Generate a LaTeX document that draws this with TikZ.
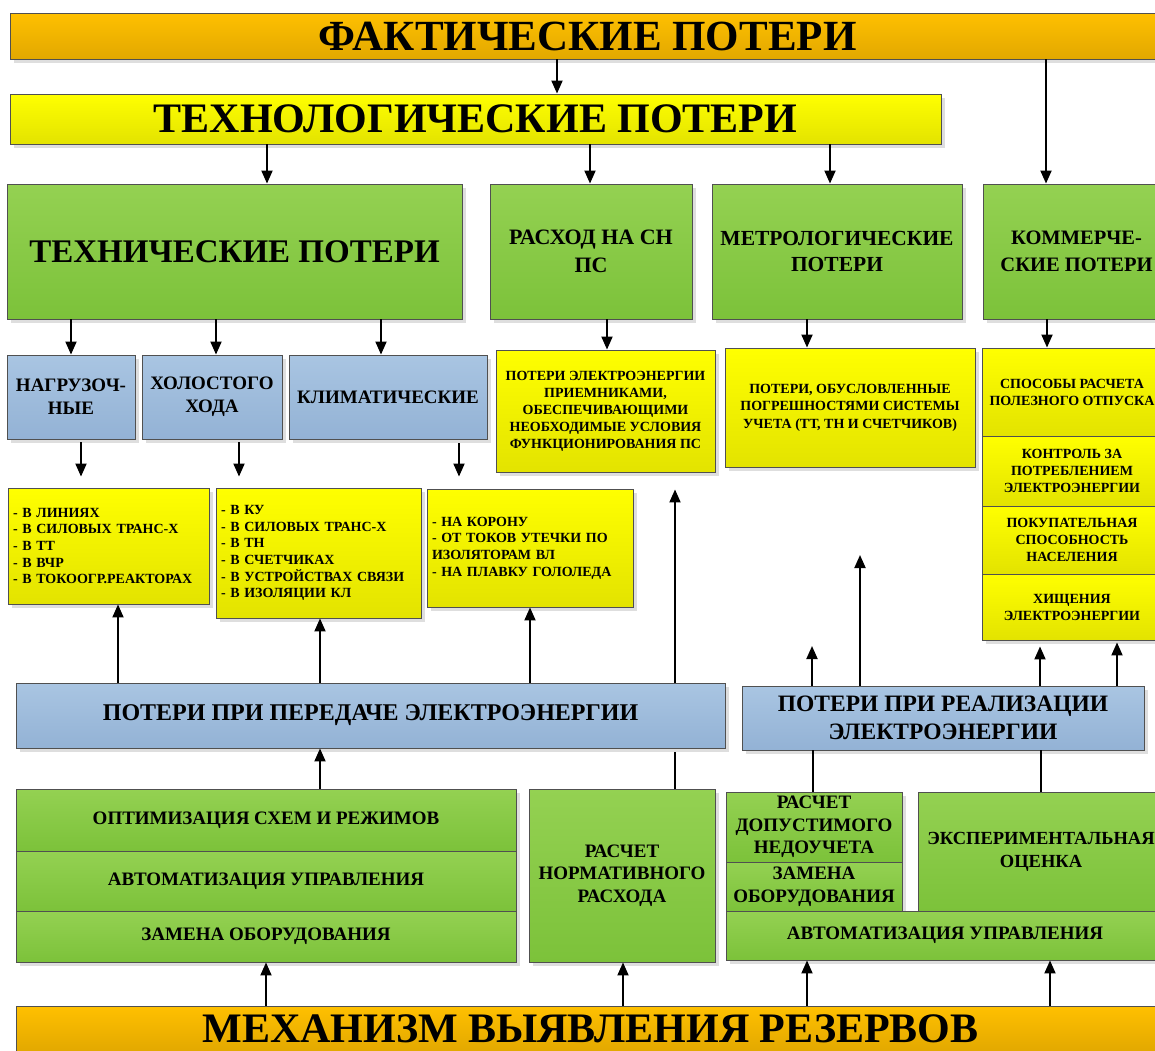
\documentclass[tikz,border=0pt]{standalone}
\usepackage{fontspec}
\setmainfont{Liberation Serif}
\usetikzlibrary{shadows,arrows.meta}
\definecolor{orT}{HTML}{FFC000}
\definecolor{orB}{HTML}{E2A800}
\definecolor{ylT}{HTML}{FFFF00}
\definecolor{ylB}{HTML}{E3E300}
\definecolor{grT}{HTML}{94D152}
\definecolor{grB}{HTML}{7CC23A}
\definecolor{blT}{HTML}{A9C5E2}
\definecolor{blB}{HTML}{93B2D5}
\definecolor{bord}{HTML}{505050}
\newcommand\fz[2]{\fontsize{#1}{#2}\selectfont\bfseries}
% name, style, x1, y1, x2, y2, text
\newcommand\rbox[7]{\node[#2, minimum width={#5pt-#3pt}, minimum height={#6pt-#4pt}] (#1) at ({(#3+#5)/2},{(#4+#6)/2}) {#7};}
\tikzset{
  bx/.style={draw=bord, line width=0.9pt, inner sep=0pt, align=center,
    drop shadow={shadow xshift=3.5pt, shadow yshift=-3.5pt, fill=black!13, opacity=1}},
  orbox/.style={bx, top color=orT, bottom color=orB},
  ylbox/.style={bx, top color=ylT, bottom color=ylB},
  grbox/.style={bx, top color=grT, bottom color=grB},
  blbox/.style={bx, top color=blT, bottom color=blB},
  lst/.style={align=left, inner xsep=5pt, text width=#1, font=\fz{14}{16.7}},
  arr/.style={line width=1.9pt, -{Triangle[length=13pt,width=11pt]}},
  ln/.style={line width=1.9pt},
}
\begin{document}
\begin{tikzpicture}[x=1pt,y=-1pt]
\useasboundingbox (0,0) rectangle (1155,1050);
\clip (0,0) rectangle (1155,1050);
\fill[white] (0,0) rectangle (1155,1050);

% connector drawn behind the transmission box
\rbox{norm}{grbox, font=\fz{19}{22.5}}{529}{789}{715}{962}{РАСЧЕТ\\НОРМАТИВНОГО\\РАСХОДА}
\rbox{ps}{ylbox, font=\fz{14}{17}}{496}{350}{715}{472}{ПОТЕРИ ЭЛЕКТРОЭНЕРГИИ\\ПРИЕМНИКАМИ,\\ОБЕСПЕЧИВАЮЩИМИ\\НЕОБХОДИМЫЕ УСЛОВИЯ\\ФУНКЦИОНИРОВАНИЯ ПС}
\draw[arr, shorten >=17pt] (675,0 |- norm.north) -- (675,0 |- ps.south);

% top bars
\rbox{fakt}{orbox, font=\fz{43}{48}}{10}{13}{1165}{59}{ФАКТИЧЕСКИЕ ПОТЕРИ}
\rbox{tech}{ylbox, font=\fz{42}{46}}{10}{94}{941}{144}{ТЕХНОЛОГИЧЕСКИЕ ПОТЕРИ}

% green row
\rbox{techn}{grbox, font=\fz{33}{38}}{7}{184}{462}{319}{ТЕХНИЧЕСКИЕ ПОТЕРИ}
\rbox{rash}{grbox, font=\fz{22}{28}}{490}{184}{692}{319}{РАСХОД НА СН\\ПС}
\rbox{metro}{grbox, font=\fz{21.5}{26.5}}{712}{184}{962}{319}{МЕТРОЛОГИЧЕСКИЕ\\ПОТЕРИ}
\rbox{komm}{grbox, font=\fz{20.5}{26.5}}{983}{184}{1170}{319}{КОММЕРЧЕ-\\СКИЕ ПОТЕРИ}

% blue row
\rbox{nagr}{blbox, font=\fz{19}{23}}{7}{355}{135}{439}{НАГРУЗОЧ-\\НЫЕ}
\rbox{holost}{blbox, font=\fz{19}{23}}{142}{355}{282}{439}{ХОЛОСТОГО\\ХОДА}
\rbox{klim}{blbox, font=\fz{19}{23}}{289}{355}{487}{439}{КЛИМАТИЧЕСКИЕ}

% yellow description boxes
\rbox{pogr}{ylbox, font=\fz{14}{17.5}}{725}{348}{975}{467}{ПОТЕРИ, ОБУСЛОВЛЕННЫЕ\\ПОГРЕШНОСТЯМИ СИСТЕМЫ\\УЧЕТА (ТТ, ТН И СЧЕТЧИКОВ)}
\rbox{sposob}{ylbox, font=\fz{14}{17}}{982}{348}{1162}{436}{СПОСОБЫ РАСЧЕТА\\ПОЛЕЗНОГО ОТПУСКА}
\rbox{kontr}{ylbox, font=\fz{14}{17}}{982}{436}{1162}{506}{КОНТРОЛЬ ЗА\\ПОТРЕБЛЕНИЕМ\\ЭЛЕКТРОЭНЕРГИИ}
\rbox{pokup}{ylbox, font=\fz{14}{17}}{982}{506}{1162}{574}{ПОКУПАТЕЛЬНАЯ\\СПОСОБНОСТЬ\\НАСЕЛЕНИЯ}
\rbox{hisch}{ylbox, font=\fz{14}{17}}{982}{574}{1162}{640}{ХИЩЕНИЯ\\ЭЛЕКТРОЭНЕРГИИ}

% lists
\rbox{list1}{ylbox, lst=191pt}{8}{488}{209}{604}{- В ЛИНИЯХ\\- В СИЛОВЫХ ТРАНС-Х\\- В ТТ\\- В ВЧР\\- В ТОКООГР.РЕАКТОРАХ}
\rbox{list2}{ylbox, lst=195pt}{216}{488}{421}{618}{- В КУ\\- В СИЛОВЫХ ТРАНС-Х\\- В ТН\\- В СЧЕТЧИКАХ\\- В УСТРОЙСТВАХ СВЯЗИ\\- В ИЗОЛЯЦИИ КЛ}
\rbox{list3}{ylbox, lst=196pt}{427}{489}{633}{607}{- НА КОРОНУ\\- ОТ ТОКОВ УТЕЧКИ ПО\\ИЗОЛЯТОРАМ ВЛ\\- НА ПЛАВКУ ГОЛОЛЕДА}

% middle blue bars
\rbox{per}{blbox, font=\fz{24}{28}}{16}{683}{725}{748}{ПОТЕРИ ПРИ ПЕРЕДАЧЕ ЭЛЕКТРОЭНЕРГИИ}
\rbox{real}{blbox, font=\fz{23.5}{28}}{742}{686}{1144}{750}{ПОТЕРИ ПРИ РЕАЛИЗАЦИИ\\ЭЛЕКТРОЭНЕРГИИ}

% bottom green boxes
\rbox{optim}{grbox, font=\fz{19}{22}}{16}{789}{516}{851}{ОПТИМИЗАЦИЯ СХЕМ И РЕЖИМОВ}
\rbox{avt1}{grbox, font=\fz{19}{22}}{16}{851}{516}{911}{АВТОМАТИЗАЦИЯ УПРАВЛЕНИЯ}
\rbox{zam1}{grbox, font=\fz{19}{22}}{16}{911}{516}{962}{ЗАМЕНА ОБОРУДОВАНИЯ}
\rbox{dop}{grbox, font=\fz{19}{22.7}}{726}{792}{902}{862}{РАСЧЕТ\\ДОПУСТИМОГО\\НЕДОУЧЕТА}
\rbox{zam2}{grbox, font=\fz{19}{23}}{726}{862}{902}{911}{ЗАМЕНА\\ОБОРУДОВАНИЯ}
\rbox{exper}{grbox, font=\fz{18.5}{23}}{918}{792}{1164}{911}{ЭКСПЕРИМЕНТАЛЬНАЯ\\ОЦЕНКА}
\rbox{avt2}{grbox, font=\fz{19}{22}}{726}{911}{1164}{960}{АВТОМАТИЗАЦИЯ УПРАВЛЕНИЯ}

% bottom bar
\rbox{mech}{orbox, font=\fz{42}{46}}{16}{1006}{1165}{1052}{МЕХАНИЗМ ВЫЯВЛЕНИЯ РЕЗЕРВОВ}

% free ends
\coordinate (f1) at (812,646);
\coordinate (f2) at (860,555);

% connectors, top part
\draw[arr] (557,0 |- fakt.south) -- (557,0 |- tech.north);
\draw[arr] (1046,0 |- fakt.south) -- (1046,0 |- komm.north);
\draw[arr] (267,0 |- tech.south) -- (267,0 |- techn.north);
\draw[arr] (590,0 |- tech.south) -- (590,0 |- rash.north);
\draw[arr] (830,0 |- tech.south) -- (830,0 |- metro.north);
\draw[arr] (71,0 |- techn.south) -- (71,0 |- nagr.north);
\draw[arr] (216,0 |- techn.south) -- (216,0 |- holost.north);
\draw[arr] (381,0 |- techn.south) -- (381,0 |- klim.north);
\draw[arr] (607,0 |- rash.south) -- (607,0 |- ps.north);
\draw[arr] (807,0 |- metro.south) -- (807,0 |- pogr.north);
\draw[arr] (1047,0 |- komm.south) -- (1047,0 |- sposob.north);
\draw[arr, shorten <=3pt, shorten >=11pt] (81,0 |- nagr.south) -- (81,0 |- list1.north);
\draw[arr, shorten <=3pt, shorten >=11pt] (239,0 |- holost.south) -- (239,0 |- list2.north);
\draw[arr, shorten <=4pt, shorten >=12pt] (459,0 |- klim.south) -- (459,0 |- list3.north);

% connectors, middle part
\draw[arr] (118,0 |- per.north) -- (118,0 |- list1.south);
\draw[arr] (320,0 |- per.north) -- (320,0 |- list2.south);
\draw[arr] (530,0 |- per.north) -- (530,0 |- list3.south);
\draw[arr] (320,0 |- optim.north) -- (320,0 |- per.south);
\draw[arr] (812,0 |- real.north) -- (f1);
\draw[arr] (860,0 |- real.north) -- (f2);
\draw[arr, shorten >=6pt] (1040,0 |- real.north) -- (1040,0 |- hisch.south);
\draw[arr, shorten >=2pt] (1117,0 |- real.north) -- (1117,0 |- hisch.south);
\draw[ln] (813,0 |- dop.north) -- (813,0 |- real.south);
\draw[ln] (1041,0 |- exper.north) -- (1041,0 |- real.south);

% connectors, bottom part
\draw[arr] (266,0 |- mech.north) -- (266,0 |- zam1.south);
\draw[arr] (623,0 |- mech.north) -- (623,0 |- norm.south);
\draw[arr] (807,0 |- mech.north) -- (807,0 |- avt2.south);
\draw[arr] (1050,0 |- mech.north) -- (1050,0 |- avt2.south);
\end{tikzpicture}
\end{document}
